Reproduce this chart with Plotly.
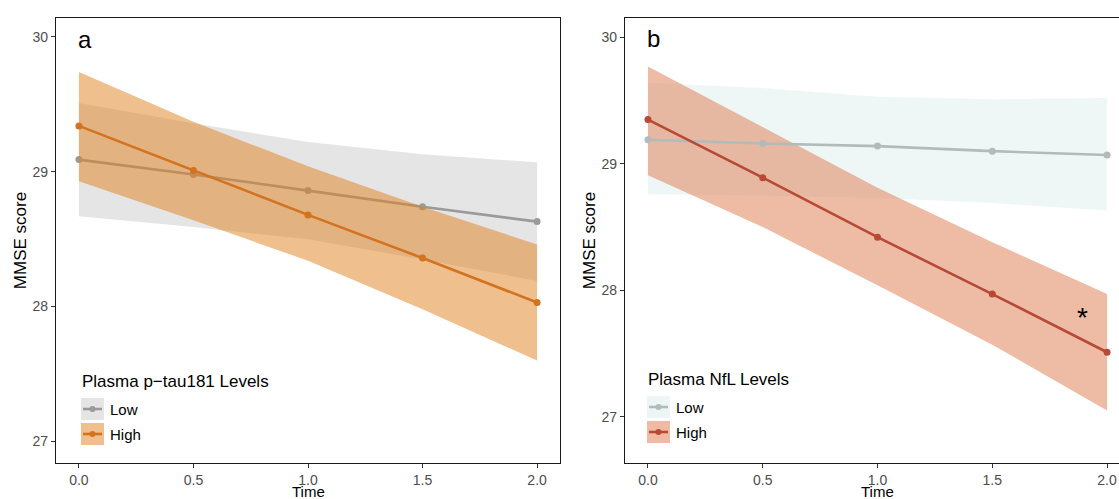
import plotly.graph_objects as go

# ---------------- data ----------------
time = [0.0, 0.5, 1.0, 1.5, 2.0]

# Panel a: Plasma p-tau181
a_low_mean = [29.09, 28.98, 28.86, 28.74, 28.63]
a_low_upper = [29.51, 29.36, 29.22, 29.13, 29.07]
a_low_lower = [28.67, 28.59, 28.50, 28.35, 28.19]
a_high_mean = [29.34, 29.01, 28.68, 28.36, 28.03]
a_high_upper = [29.74, 29.37, 29.04, 28.74, 28.46]
a_high_lower = [28.93, 28.64, 28.34, 27.98, 27.60]

# Panel b: Plasma NfL
b_low_mean = [29.19, 29.16, 29.14, 29.10, 29.07]
b_low_upper = [29.64, 29.60, 29.53, 29.51, 29.52]
b_low_lower = [28.76, 28.75, 28.73, 28.69, 28.63]
b_high_mean = [29.35, 28.89, 28.42, 27.97, 27.51]
b_high_upper = [29.77, 29.29, 28.81, 28.38, 27.97]
b_high_lower = [28.91, 28.50, 28.04, 27.57, 27.05]

x_ticks = [0.0, 0.5, 1.0, 1.5, 2.0]
x_tick_labels = ["0.0", "0.5", "1.0", "1.5", "2.0"]
y_ticks = [27, 28, 29, 30]
y_tick_labels = ["27", "28", "29", "30"]
group_labels = ["Low", "High"]
legend_titles = ["Plasma p\u2212tau181 Levels", "Plasma NfL Levels"]
panel_labels = ["a", "b"]
x_title = "Time"
y_title = "MMSE score"
signif_mark = "*"
signif_pos = (1.893, 27.785)

# ---------------- styling ----------------
W, H = 1119, 499
ML, MR, MT, MB = 0, 0, 18, 36
FONT = "Liberation Sans, Arial, Helvetica, sans-serif"

a_low_line, a_low_fill, a_low_swatch = "#9a9a9a", "rgba(153,153,153,0.25)", "#e5e5e5"
a_high_line, a_high_fill, a_high_swatch = "#d2741f", "rgba(225,127,29,0.5)", "#f0bf8e"
b_low_line, b_low_fill, b_low_swatch = "#b2bbbb", "rgba(210,230,230,0.35)", "#eef5f5"
b_high_line, b_high_fill, b_high_swatch = "#b84a35", "rgba(222,120,76,0.5)", "#eebaa4"

fig = go.Figure()


def ribbon(x, upper, lower, color, xa, ya):
    fig.add_trace(go.Scatter(
        x=list(x) + list(x)[::-1], y=list(upper) + list(lower)[::-1],
        fill="toself", fillcolor=color, line=dict(width=0), mode="lines",
        hoverinfo="skip", showlegend=False, xaxis=xa, yaxis=ya))


def line(x, y, color, xa, ya, name):
    fig.add_trace(go.Scatter(
        x=x, y=y, mode="lines+markers", name=name,
        line=dict(color=color, width=2.6), marker=dict(color=color, size=7),
        showlegend=False, xaxis=xa, yaxis=ya))


# panel a
ribbon(time, a_low_upper, a_low_lower, a_low_fill, "x", "y")
line(time, a_low_mean, a_low_line, "x", "y", group_labels[0])
ribbon(time, a_high_upper, a_high_lower, a_high_fill, "x", "y")
line(time, a_high_mean, a_high_line, "x", "y", group_labels[1])

# panel b
ribbon(time, b_low_upper, b_low_lower, b_low_fill, "x2", "y2")
ribbon(time, b_high_upper, b_high_lower, b_high_fill, "x2", "y2")
line(time, b_low_mean, b_low_line, "x2", "y2", group_labels[0])
line(time, b_high_mean, b_high_line, "x2", "y2", group_labels[1])

axis_common = dict(
    showgrid=False, zeroline=False, showline=True, linecolor="#1a1a1a", linewidth=1.3,
    ticks="outside", ticklen=4, tickwidth=1, tickcolor="#333333", automargin=False,
    tickfont=dict(family=FONT, size=14, color="#4d4d4d"),
)

fig.update_layout(
    width=W, height=H, margin=dict(l=ML, r=MR, t=MT, b=MB, autoexpand=False),
    paper_bgcolor="white", plot_bgcolor="white", showlegend=False,
    font=dict(family=FONT),
    xaxis=dict(domain=[56 / W, 560 / W], range=[-0.1, 2.1], mirror=True,
               tickvals=x_ticks, ticktext=x_tick_labels, **axis_common),
    yaxis=dict(domain=[0, 1], range=[26.84, 30.14], mirror=True, anchor="x",
               tickvals=y_ticks, ticktext=y_tick_labels,
               title=dict(text=y_title, font=dict(size=17, color="black"), standoff=1),
               **axis_common),
    xaxis2=dict(domain=[625 / W, 1.0], range=[-0.1, 2.052], mirror=True, anchor="y2",
                tickvals=x_ticks, ticktext=x_tick_labels, **axis_common),
    yaxis2=dict(domain=[0, 1], range=[26.634, 30.153], mirror=False, anchor="x2",
                tickvals=y_ticks, ticktext=y_tick_labels,
                title=dict(text=y_title, font=dict(size=17, color="black"), standoff=1),
                **axis_common),
)

PH = H - MT - MB


def px(xp):
    return (xp - ML) / (W - ML - MR)


def py(yp):
    return (H - MB - yp) / PH


shapes = []
annotations = []


def legend(x0, title_y, item_ys, title, fills, lines):
    annotations.append(dict(xref="paper", yref="paper", x=px(x0 - 1), y=py(title_y),
                            xanchor="left", yanchor="middle", showarrow=False,
                            text=title, font=dict(family=FONT, size=17, color="black")))
    for yc, lab, fc, lc in zip(item_ys, group_labels, fills, lines):
        shapes.append(dict(type="rect", xref="paper", yref="paper",
                           x0=px(x0), x1=px(x0 + 23), y0=py(yc - 11), y1=py(yc + 11),
                           fillcolor=fc, line=dict(width=0), layer="above"))
        shapes.append(dict(type="line", xref="paper", yref="paper",
                           x0=px(x0 + 2), x1=px(x0 + 21), y0=py(yc), y1=py(yc),
                           line=dict(color=lc, width=2.6), layer="above"))
        shapes.append(dict(type="circle", xref="paper", yref="paper",
                           x0=px(x0 + 8.5), x1=px(x0 + 14.5), y0=py(yc - 3), y1=py(yc + 3),
                           fillcolor=lc, line=dict(width=0), layer="above"))
        annotations.append(dict(xref="paper", yref="paper", x=px(x0 + 27), y=py(yc),
                                xanchor="left", yanchor="middle", showarrow=False,
                                text=lab, font=dict(family=FONT, size=15, color="black")))


legend(81, 381, [409, 434], legend_titles[0], [a_low_swatch, a_high_swatch], [a_low_line, a_high_line])
legend(647, 379, [407, 432], legend_titles[1], [b_low_swatch, b_high_swatch], [b_low_line, b_high_line])

# x-axis titles placed just below the tick labels
for xa in ("x", "x2"):
    annotations.append(dict(xref=xa, yref="paper", x=1.0, y=py(481.5), xanchor="center",
                            yanchor="top", showarrow=False, text=x_title, borderpad=0,
                            font=dict(family=FONT, size=15, color="black")))

annotations.append(dict(xref="paper", yref="paper", x=px(76), y=py(40), xanchor="left",
                        yanchor="middle", showarrow=False, text=panel_labels[0],
                        font=dict(family=FONT, size=24, color="black")))
annotations.append(dict(xref="paper", yref="paper", x=px(645), y=py(39), xanchor="left",
                        yanchor="middle", showarrow=False, text=panel_labels[1],
                        font=dict(family=FONT, size=24, color="black")))
annotations.append(dict(xref="x2", yref="y2", x=signif_pos[0], y=signif_pos[1],
                        xanchor="center", yanchor="middle", showarrow=False,
                        text=signif_mark, font=dict(family=FONT, size=28, color="black")))

fig.update_layout(shapes=shapes, annotations=annotations)
fig.write_html("out.html")
